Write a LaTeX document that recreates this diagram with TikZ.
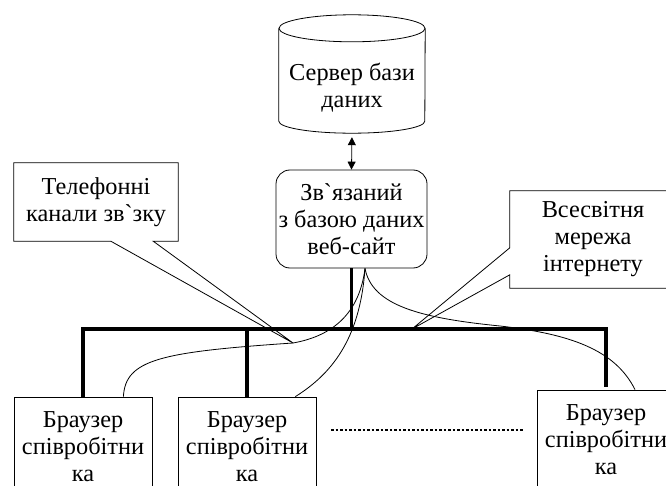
\documentclass[tikz,border=0pt]{standalone}
\usepackage{fontspec}
\setmainfont{Liberation Serif}
\usetikzlibrary{arrows.meta, positioning}

\begin{document}
\begin{tikzpicture}[x=1pt, y=-1pt,
  every node/.style={font=\fontsize{24.3}{27}\selectfont, align=center, inner sep=0pt},
  browser/.style={draw, rectangle, line width=0.8pt, minimum width=138pt, minimum height=100pt},
  callbox/.style={rectangle},
  bus/.style={line width=3.2pt},
  link/.style={line width=0.8pt},
  >={Triangle[width=8pt,length=8pt]}]
  \useasboundingbox (0,0) rectangle (666,486);
  \clip (0,0) rectangle (666,486);

  \node[minimum width=146pt, minimum height=118pt, label={[yshift=-14pt]center:{Сервер бази\\даних}}] (db) at (352,74) {};
  \node[draw, rounded corners=14pt, line width=0.8pt, minimum width=151pt, minimum height=98pt] (web) at (351.5,219) {Зв\textasciigrave язаний\\з базою даних\\веб-сайт};
  \node[browser] (b1) at (83,447) {Браузер\\співробітни\\ка};
  \node[browser] (b2) at (247,447) {Браузер\\співробітни\\ка};
  \node[browser] (b3) at (606,440) {Браузер\\співробітни\\ка};
  \node[callbox, minimum width=164pt, minimum height=78pt] (phone) at (96,202) {Телефонні\\канали зв\textasciigrave зку};
  \node[callbox, minimum width=166pt, minimum height=97pt] (www) at (593,239.5) {Всесвітня\\мережа\\інтернету};

  \coordinate (phonetip) at (293,343);
  \coordinate (wwwtip) at (412,329);
  \coordinate (hub) at ([xshift=13.5pt]web.south);
  \coordinate (busR) at (606,329);
  \coordinate (dip) at (500,326);
  \coordinate (dotsL) at (331,430);
  \coordinate (dotsR) at (523,430);

  % сервер
  \draw[link] ([yshift=-13.5pt]db.north) ellipse [x radius=73pt, y radius=13.5pt];
  \draw[link] ([yshift=-13.5pt]db.north west) -- ([yshift=12pt]db.south west)
    arc[start angle=180, end angle=360, x radius=73pt, y radius=12pt] -- ([yshift=-13.5pt]db.north east);

  % виноски
  \draw[link] (phone.south west) -- (phone.north west) -- (phone.north east) -- (phone.south east)
    -- ([xshift=-25pt]phone.south east) -- (phonetip) -- ([xshift=97pt]phone.south west) -- cycle;
  \draw[link] (www.north west) -- (www.north east) -- (www.south east) -- (www.south west)
    -- ([yshift=-84pt]www.north west) -- (wwwtip) -- ([yshift=-57pt]www.north west) -- cycle;

  % шина
  \draw[bus] (b1.north) |- (busR) -- ([yshift=3pt]b3.north);
  \draw[bus] (b2.north) -- (b2.north |- busR);
  \draw[bus] (web.south) -- (web.south |- busR);

  % з'єднання
  \draw[link, <->, shorten <=4pt] (db.south) -- (web.north);
  \draw[link] ([xshift=-29pt]b1.north east) .. controls +(2,-37) and +(-133,9) .. (phonetip)
    .. controls +(45,-8) and +(-5,40) .. (hub);
  \draw[link] ([xshift=-21pt]b2.north east) .. controls +(35,-22) and +(-5,72) .. (hub);
  \draw[link] (hub) .. controls +(7,37) and +(-80,-8) .. (dip)
    .. controls +(70,8) and +(-20,-40) .. ([xshift=29pt]b3.north);

  \draw[line width=2.5pt, dash pattern=on 2.5pt off 2pt] (dotsL) -- (dotsR);
\end{tikzpicture}
\end{document}
